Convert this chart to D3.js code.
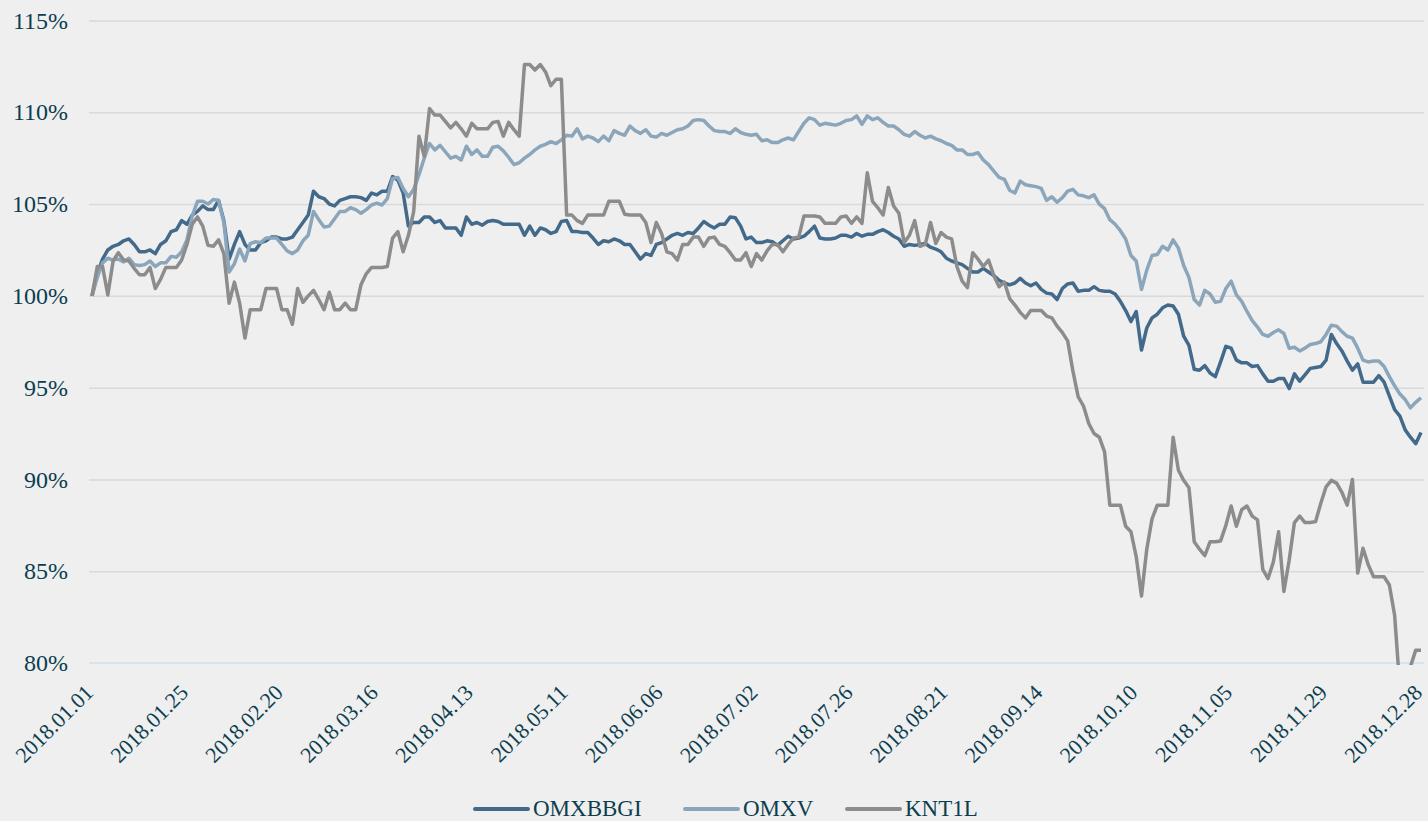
<!DOCTYPE html>
<html><head><meta charset="utf-8">
<script src="https://cdn.jsdelivr.net/npm/d3@7"></script>
<style>body{margin:0;background:#efefef;}svg{display:block}</style>
</head><body>
<svg id="c" width="1428" height="821"></svg>
<script>
const seriesNames = ["OMXBBGI", "OMXV", "KNT1L"];
const omxbbgi = [100,101.2,102.0,102.5,102.7,102.8,103.0,103.1,102.8,102.4,102.4,102.5,102.3,102.8,103.0,103.5,103.6,104.1,103.9,104.4,
104.6,104.9,104.7,104.7,105.2,104.1,102.0,102.8,103.5,102.8,102.5,102.5,102.9,103.0,103.2,103.2,103.1,103.1,103.2,103.6,
104.0,104.4,105.7,105.4,105.3,105.0,104.9,105.2,105.3,105.4,105.4,105.35,105.2,105.6,105.5,105.7,105.7,106.5,106.3,105.6,
103.8,104.0,104.0,104.3,104.3,104.0,104.1,103.7,103.7,103.7,103.3,104.3,103.9,104.0,103.85,104.05,104.1,104.05,103.9,103.9,
103.9,103.9,103.3,103.8,103.3,103.7,103.6,103.4,103.5,104.05,104.1,103.5,103.5,103.45,103.45,103.15,102.8,103.0,102.95,103.1,
103.0,102.8,102.8,102.4,102.0,102.3,102.2,102.8,102.9,103.1,103.3,103.4,103.3,103.45,103.4,103.7,104.05,103.85,103.7,103.9,
103.9,104.3,104.25,103.8,103.1,103.2,102.9,102.9,103.0,102.95,102.75,103.0,103.25,103.1,103.15,103.25,103.5,103.8,103.15,103.1,
103.1,103.15,103.3,103.3,103.2,103.4,103.25,103.35,103.35,103.5,103.6,103.45,103.25,103.1,102.7,102.8,102.75,102.8,102.85,102.65,
102.55,102.4,102.05,101.9,101.8,101.7,101.5,101.3,101.3,101.5,101.3,101.1,100.85,100.7,100.6,100.7,100.95,100.7,100.55,100.7,
100.35,100.15,100.1,99.8,100.4,100.65,100.7,100.25,100.3,100.3,100.5,100.3,100.25,100.25,100.1,99.7,99.2,98.6,99.15,97.05,
98.25,98.8,99.0,99.35,99.5,99.45,99.0,97.8,97.3,96.0,95.95,96.2,95.8,95.6,96.4,97.25,97.15,96.5,96.35,96.35,
96.15,96.2,95.75,95.35,95.35,95.5,95.5,94.95,95.75,95.35,95.7,96.05,96.1,96.15,96.5,97.9,97.4,97.0,96.45,95.95,
96.3,95.3,95.3,95.3,95.65,95.3,94.55,93.8,93.45,92.7,92.3,91.95,92.55];
const omxv = [100,101.0,101.8,102.05,101.95,102.0,101.85,102.05,101.7,101.65,101.7,101.9,101.6,101.8,101.8,102.15,102.1,102.4,103.05,104.35,
105.15,105.15,105.0,105.25,105.2,104.0,101.3,101.75,102.55,101.9,102.85,102.95,102.9,103.15,103.15,103.15,102.8,102.45,102.3,102.5,
103.0,103.3,104.6,104.15,103.75,103.8,104.2,104.6,104.6,104.8,104.7,104.5,104.7,104.95,105.05,104.95,105.3,106.4,106.45,105.85,
105.4,105.8,106.6,107.5,108.3,107.95,108.2,107.85,107.5,107.6,107.4,108.15,107.7,107.95,107.6,107.6,108.1,108.15,107.9,107.55,
107.15,107.25,107.5,107.7,107.95,108.15,108.25,108.4,108.3,108.5,108.75,108.7,109.1,108.55,108.7,108.6,108.4,108.7,108.45,109.0,
108.85,108.75,109.25,109.0,108.85,109.05,108.7,108.65,108.85,108.75,108.9,109.05,109.1,109.25,109.55,109.6,109.55,109.25,109.0,108.95,
108.95,108.85,109.1,108.9,108.8,108.75,108.8,108.45,108.5,108.35,108.35,108.5,108.6,108.5,108.95,109.4,109.7,109.6,109.3,109.4,
109.35,109.3,109.4,109.55,109.6,109.8,109.35,109.8,109.6,109.7,109.45,109.25,109.25,109.05,108.8,108.7,108.95,108.75,108.6,108.7,
108.55,108.45,108.3,108.2,107.95,107.95,107.7,107.7,107.8,107.4,107.15,106.8,106.45,106.35,105.75,105.6,106.25,106.05,106.0,105.95,
105.85,105.2,105.4,105.1,105.35,105.7,105.8,105.5,105.45,105.35,105.5,105.0,104.75,104.15,103.9,103.55,103.1,102.2,101.9,100.35,
101.4,102.2,102.25,102.7,102.5,103.05,102.6,101.65,101.0,99.8,99.5,100.3,100.1,99.65,99.7,100.4,100.8,100.05,99.7,99.15,
98.65,98.3,97.9,97.8,98.0,98.15,97.95,97.15,97.2,97.0,97.15,97.35,97.4,97.5,97.9,98.4,98.35,98.05,97.8,97.7,
97.15,96.5,96.4,96.45,96.45,96.15,95.6,95.1,94.65,94.35,93.9,94.2,94.45];
const knt1l = [100,101.6,101.6,100.05,101.9,102.35,101.95,101.9,101.5,101.15,101.15,101.55,100.4,100.9,101.55,101.55,101.55,101.95,102.8,103.9,
104.3,103.8,102.75,102.7,103.05,102.3,99.6,100.75,99.6,97.7,99.25,99.25,99.25,100.4,100.4,100.4,99.25,99.25,98.45,100.4,
99.65,100.0,100.3,99.8,99.25,100.2,99.25,99.25,99.6,99.25,99.25,100.6,101.2,101.55,101.55,101.55,101.6,103.15,103.5,102.4,
103.3,104.6,108.7,107.6,110.2,109.85,109.85,109.5,109.15,109.45,109.1,108.7,109.4,109.1,109.1,109.1,109.45,109.5,108.7,109.45,
109.05,108.7,112.6,112.6,112.3,112.6,112.2,111.45,111.8,111.8,104.4,104.4,104.1,103.95,104.4,104.4,104.4,104.4,105.15,105.15,
105.15,104.45,104.4,104.4,104.4,104.0,102.9,104.0,103.4,102.4,102.3,101.95,102.8,102.8,103.2,103.2,102.7,103.15,103.2,102.8,
102.7,102.35,101.95,101.95,102.35,101.6,102.3,101.95,102.45,102.8,102.8,102.4,102.8,103.15,103.2,104.35,104.35,104.35,104.3,103.95,
103.95,103.95,104.3,104.35,103.95,104.3,103.95,106.7,105.15,104.8,104.4,105.9,104.9,104.5,102.9,103.3,104.1,102.7,102.8,104.0,
102.85,103.45,103.2,103.1,101.6,100.8,100.45,102.35,102.0,101.6,101.95,101.1,100.5,100.75,99.85,99.5,99.1,98.8,99.2,99.2,
99.2,98.9,98.8,98.35,98.0,97.55,95.9,94.5,94.0,93.05,92.5,92.3,91.5,88.6,88.6,88.6,87.45,87.15,85.8,83.65,
86.2,87.85,88.6,88.6,88.6,92.3,90.5,89.95,89.55,86.6,86.2,85.85,86.6,86.6,86.65,87.5,88.55,87.45,88.35,88.55,
88.0,87.8,85.1,84.6,85.5,87.15,83.9,85.6,87.65,88.0,87.65,87.65,87.7,88.7,89.6,89.95,89.8,89.3,88.6,90.0,
84.9,86.25,85.35,84.7,84.7,84.7,84.25,82.6,78.6,78.7,79.8,80.7,80.7];
const tickLabels = ["2018.01.01","2018.01.25","2018.02.20","2018.03.16","2018.04.13","2018.05.11","2018.06.06","2018.07.02",
"2018.07.26","2018.08.21","2018.09.14","2018.10.10","2018.11.05","2018.11.29","2018.12.28"];
const tickEvery = 18;
const yTicks = [80, 85, 90, 95, 100, 105, 110, 115];
const colors = ["#436a8b", "#8ba6bb", "#8c8c8c"];

const svg = d3.select("#c");
const font = "'Liberation Serif', 'Times New Roman', serif";
const textColor = "#0c3e4f";
const n = omxbbgi.length;
const x = d3.scaleLinear().domain([0, n - 1]).range([92, 1421]);
const y = d3.scaleLinear().domain([80, 115]).range([663, 20.5]);

svg.append("rect").attr("width", 1428).attr("height", 821).attr("fill", "#efefef");

// gridlines
const grid = svg.append("g").attr("transform", "translate(89,0)")
  .call(d3.axisLeft(y).tickValues(yTicks.slice(1)).tickSize(-1335).tickFormat(""));
grid.select(".domain").remove();
grid.selectAll("line").attr("stroke", "#d9d9d9").attr("stroke-width", 1.5);

// bottom axis line (80%)
svg.append("line").attr("x1", 89).attr("x2", 1424).attr("y1", y(80)).attr("y2", y(80))
  .attr("stroke", "#cfe0ee").attr("stroke-width", 1.5);

// y labels
const ya = svg.append("g").attr("transform", "translate(68,0)")
  .call(d3.axisLeft(y).tickValues(yTicks).tickSize(0).tickPadding(0).tickFormat(d => d + "%"));
ya.select(".domain").remove();
ya.selectAll("text").attr("font-family", font).attr("font-size", 24).attr("fill", textColor);

// x labels
const tickIdx = tickLabels.map((_, i) => i * tickEvery);
const xa = svg.append("g").attr("transform", `translate(0,${y(80)})`)
  .call(d3.axisBottom(x).tickValues(tickIdx).tickSize(0).tickFormat((d, i) => tickLabels[i]));
xa.select(".domain").remove();
xa.selectAll("text")
  .attr("font-family", font).attr("font-size", 22).attr("fill", textColor)
  .attr("text-anchor", "end").attr("x", 0).attr("y", 0).attr("dy", 0)
  .attr("transform", "translate(2,31) rotate(-45)");

// clip
svg.append("clipPath").attr("id", "plotclip").append("rect")
  .attr("x", 0).attr("y", 0).attr("width", 1428).attr("height", 665);

const series = [omxbbgi, omxv, knt1l];
const line = d3.line().x((d, i) => x(i)).y(d => y(d));
const lg = svg.append("g").attr("clip-path", "url(#plotclip)");
series.forEach((s, k) => {
  lg.append("path").datum(s).attr("d", line).attr("fill", "none")
    .attr("stroke", colors[k]).attr("stroke-width", 3.5).attr("stroke-linejoin", "round");
});

// legend
const legX = [475, 685, 847];
const leg = svg.append("g");
seriesNames.forEach((name, k) => {
  leg.append("line").attr("x1", legX[k]).attr("x2", legX[k] + 53).attr("y1", 809).attr("y2", 809)
    .attr("stroke", colors[k]).attr("stroke-width", 4).attr("stroke-linecap", "round");
  leg.append("text").attr("x", legX[k] + 58).attr("y", 816).text(name)
    .attr("font-family", font).attr("font-size", 23).attr("fill", textColor);
});
</script>
</body></html>
